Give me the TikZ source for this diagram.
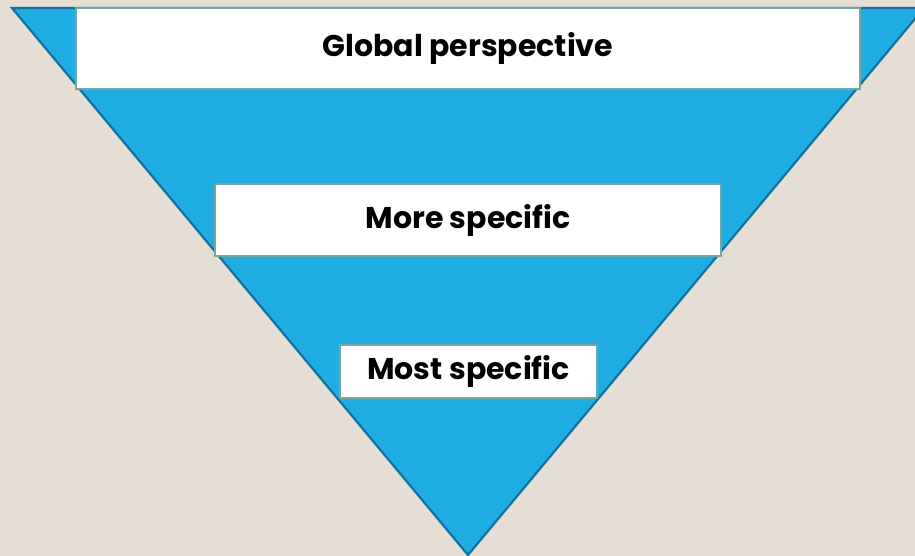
\documentclass[tikz,border=0pt]{standalone}
\usepackage{fontspec}
\setmainfont{Poppins}[BoldFont={* Bold}]
\definecolor{paper}{HTML}{E4DED4}
\definecolor{funnelfill}{HTML}{1FADE3}
\definecolor{funneledge}{HTML}{1472A0}
\definecolor{boxedge}{HTML}{72A8A1}
\tikzset{
  level/.style={draw=boxedge,line width=1.8bp,fill=white,inner sep=0pt,
    font=\fontsize{30bp}{34bp}\selectfont\bfseries},
}
\begin{document}
\begin{tikzpicture}[x=1bp,y=-1bp,line join=miter]
%%
  \fill [paper] (0,0) rectangle (915,556);
  \useasboundingbox (0,0) rectangle (915,556);
  \clip (0,0) rectangle (915,556);
%%
  \coordinate (tl) at (12,8);
  \coordinate (tr) at (924,8);
  \coordinate (tip) at (468,555);
  \draw [funneledge,fill=funnelfill,line width=2.2bp] (tl) -- (tr) -- (tip) -- cycle;
%%
  \node (global) at (468,48.5) [level,minimum width=784bp,minimum height=81bp] {Global perspective};
  \node (more) at (468,220) [level,minimum width=506bp,minimum height=72bp] {More specific};
  \node (most) at (468.5,371.5) [level,minimum width=257bp,minimum height=53bp] {Most specific};
%
\end{tikzpicture}
\end{document}
